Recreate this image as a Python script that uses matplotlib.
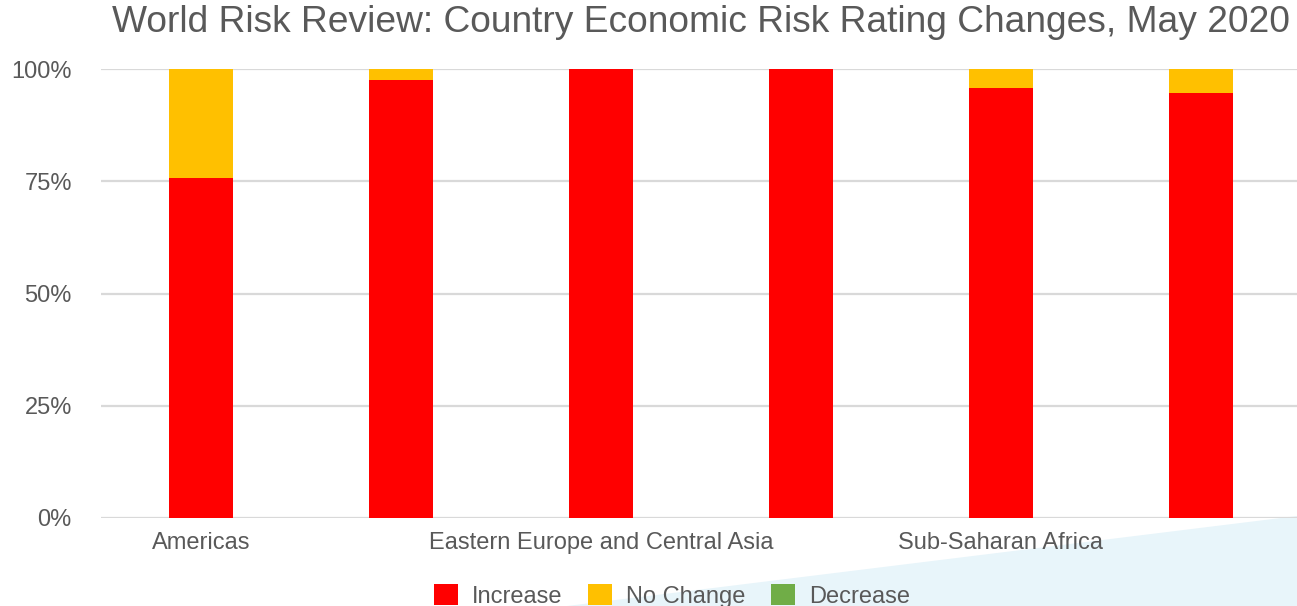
import matplotlib
matplotlib.use("Agg")
import numpy as np
import matplotlib.pyplot as plt
from matplotlib.patches import Patch, Polygon
from matplotlib.ticker import PercentFormatter

regioes = ["Americas", "Asia Pacific", "Eastern Europe and Central Asia",
           "Middle East and North Africa", "Sub-Saharan Africa", "Western Europe"]
aumento = [75.8, 97.6, 100.0, 100.0, 95.8, 94.7]
sem_mudanca = [24.2, 2.4, 0.0, 0.0, 4.2, 5.3]
reducao = [0.0, 0.0, 0.0, 0.0, 0.0, 0.0]
series = ["Increase", "No Change", "Decrease"]
cores = ["#FF0000", "#FFC000", "#70AD47"]

cinza = "#595959"
plt.rcParams['font.family'] = ['Liberation Sans', 'DejaVu Sans']

W, H = 1297, 606
fig = plt.figure(figsize=(W / 100, H / 100), dpi=100)

# faixa azul clara no canto inferior direito
tri = Polygon([(567 / W, 0), (1, 90 / H), (1, 0)], closed=True,
              transform=fig.transFigure, facecolor="#E8F5FA",
              edgecolor="none", zorder=-1)
fig.patches.append(tri)

ax = fig.add_axes([101 / W, (H - 518) / H, (W - 101) / W, 449 / H])
ax.set_facecolor("none")

x = np.arange(len(regioes))
base = np.zeros(len(regioes))
for nome, vals, cor in zip(series, [aumento, sem_mudanca, reducao], cores):
    vals = np.array(vals) / 100
    ax.bar(x, vals, width=0.32, bottom=base, color=cor, label=nome, zorder=3)
    base += vals

ax.set_xlim(-0.5, -0.5 + (W - 101) / 200)
ax.set_ylim(0, 1)
ax.set_yticks([0, 0.25, 0.5, 0.75, 1.0])
ax.yaxis.set_major_formatter(PercentFormatter(1.0, decimals=0))
ax.grid(axis='y', color="#D9D9D9", lw=1.6, zorder=0)
ax.set_axisbelow(True)

ax.set_xticks(x)
ax.set_xticklabels([r if i % 2 == 0 else "" for i, r in enumerate(regioes)])
for s in ax.spines.values():
    s.set_visible(False)
ax.tick_params(axis='both', length=0, labelsize=17, colors=cinza)
ax.tick_params(axis='y', pad=21)
ax.tick_params(axis='x', pad=10)

fig.text(701 / W, 1 - 22 / H, "World Risk Review: Country Economic Risk Rating Changes, May 2020",
         ha='center', va='center', fontsize=26.7, color=cinza)

handles = [Patch(facecolor=c, edgecolor="none") for c in cores]
leg = fig.legend(handles, series, loc='center', bbox_to_anchor=(672 / W, 1 - 596 / H),
                 ncol=3, frameon=False, fontsize=17, handlelength=1.0, handleheight=0.95,
                 handletextpad=0.6, columnspacing=1.1)
for t in leg.get_texts():
    t.set_color(cinza)

fig.savefig("out.png", dpi=100)
